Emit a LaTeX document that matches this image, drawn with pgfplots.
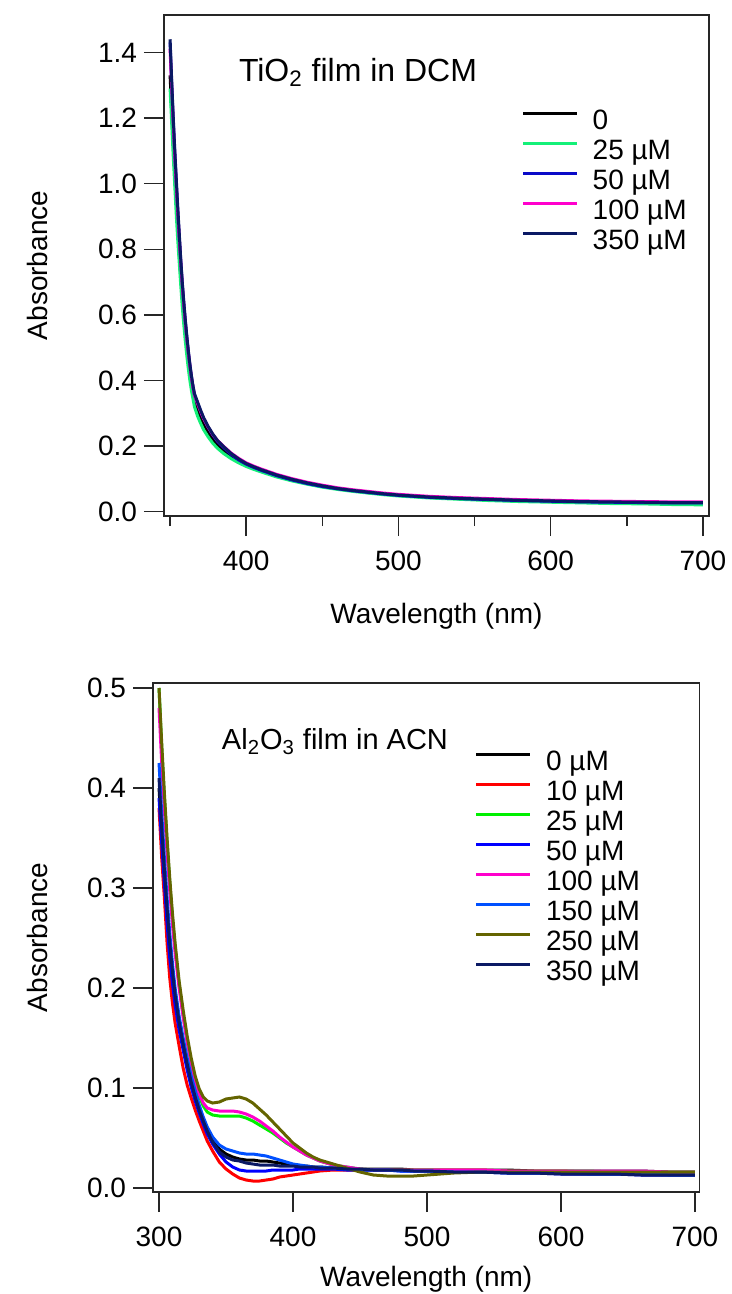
\documentclass[border=0pt]{standalone}
\usepackage{fontspec}
\setmainfont{Liberation Sans}
\usepackage{pgfplots}
\usepackage{pgfplotstable}
\pgfplotsset{compat=1.18}

\definecolor{cSpring}{RGB}{20,240,120}
\definecolor{cBlueT}{RGB}{10,10,200}
\definecolor{cMag}{RGB}{255,0,204}
\definecolor{cNavy}{RGB}{10,25,100}
\definecolor{cRed}{RGB}{255,0,0}
\definecolor{cGreen}{RGB}{0,240,0}
\definecolor{cBlue}{RGB}{0,0,255}
\definecolor{cLBlue}{RGB}{0,80,255}
\definecolor{cOlive}{RGB}{100,100,0}

% TiO2 film in DCM
\pgfplotstableread{
x c0 c25 c50 c100 c350
350 1.33 1.29 1.43 1.41 1.44
351 1.23 1.19 1.31 1.30 1.32
352 1.13 1.09 1.20 1.19 1.21
353 1.04 1.00 1.10 1.09 1.11
354 0.95 0.91 1.01 1.00 1.02
355 0.87 0.83 0.92 0.915 0.93
356 0.79 0.76 0.84 0.835 0.85
357 0.72 0.69 0.765 0.76 0.77
358 0.655 0.625 0.695 0.69 0.70
359 0.60 0.57 0.635 0.63 0.64
360 0.55 0.52 0.58 0.575 0.585
361 0.505 0.475 0.53 0.527 0.535
362 0.46 0.435 0.486 0.484 0.49
363 0.425 0.40 0.447 0.445 0.45
364 0.393 0.37 0.412 0.41 0.415
365 0.365 0.345 0.382 0.38 0.385
366 0.34 0.32 0.357 0.355 0.36
368 0.313 0.292 0.332 0.33 0.335
370 0.29 0.27 0.307 0.306 0.31
372 0.268 0.25 0.284 0.284 0.287
375 0.243 0.228 0.257 0.258 0.26
378 0.222 0.209 0.234 0.236 0.237
381 0.205 0.194 0.215 0.218 0.218
385 0.188 0.178 0.196 0.20 0.199
390 0.170 0.162 0.175 0.179 0.178
395 0.155 0.149 0.158 0.163 0.161
400 0.143 0.138 0.145 0.149 0.147
405 0.133 0.129 0.135 0.139 0.137
410 0.125 0.121 0.126 0.130 0.128
420 0.109 0.106 0.110 0.114 0.112
430 0.097 0.094 0.097 0.101 0.099
440 0.086 0.084 0.086 0.090 0.088
450 0.077 0.075 0.077 0.081 0.079
460 0.070 0.068 0.070 0.073 0.071
470 0.064 0.062 0.064 0.067 0.065
480 0.058 0.057 0.059 0.062 0.060
490 0.054 0.052 0.054 0.057 0.055
500 0.050 0.048 0.050 0.053 0.051
520 0.044 0.042 0.044 0.047 0.045
540 0.040 0.038 0.040 0.043 0.041
560 0.036 0.034 0.037 0.040 0.038
580 0.033 0.031 0.034 0.037 0.035
600 0.031 0.029 0.032 0.035 0.033
620 0.029 0.027 0.030 0.033 0.031
640 0.028 0.025 0.029 0.032 0.030
660 0.027 0.024 0.028 0.031 0.029
680 0.026 0.022 0.027 0.030 0.028
700 0.025 0.021 0.027 0.030 0.028
}\tiotab

% Al2O3 film in ACN
\pgfplotstableread{
x c0 c10 c25 c50 c100 c150 c250 c350
300 0.400 0.380 0.500 0.390 0.480 0.425 0.500 0.410
302 0.355 0.330 0.440 0.345 0.425 0.375 0.445 0.360
304 0.313 0.290 0.390 0.305 0.378 0.330 0.395 0.318
306 0.275 0.245 0.345 0.265 0.335 0.290 0.350 0.280
308 0.240 0.210 0.305 0.230 0.297 0.255 0.310 0.245
310 0.213 0.185 0.270 0.205 0.264 0.225 0.275 0.217
312 0.190 0.165 0.240 0.183 0.235 0.200 0.245 0.193
315 0.163 0.142 0.203 0.158 0.200 0.172 0.207 0.166
318 0.142 0.120 0.173 0.138 0.171 0.150 0.178 0.144
321 0.122 0.103 0.147 0.118 0.146 0.130 0.152 0.124
324 0.105 0.090 0.125 0.101 0.125 0.112 0.130 0.106
327 0.090 0.078 0.106 0.087 0.107 0.097 0.112 0.091
330 0.077 0.067 0.092 0.075 0.094 0.083 0.099 0.078
333 0.066 0.057 0.082 0.064 0.085 0.071 0.091 0.067
336 0.057 0.047 0.076 0.054 0.080 0.061 0.087 0.057
340 0.047 0.037 0.073 0.044 0.078 0.051 0.085 0.046
345 0.039 0.026 0.072 0.034 0.077 0.043 0.086 0.036
350 0.034 0.019 0.072 0.026 0.077 0.039 0.089 0.031
355 0.031 0.014 0.072 0.021 0.077 0.037 0.090 0.028
360 0.029 0.010 0.072 0.018 0.076 0.035 0.091 0.027
365 0.028 0.008 0.070 0.017 0.074 0.034 0.089 0.025
370 0.028 0.007 0.067 0.017 0.071 0.034 0.085 0.024
375 0.027 0.007 0.063 0.017 0.067 0.033 0.079 0.023
380 0.027 0.008 0.059 0.017 0.062 0.032 0.073 0.023
385 0.026 0.009 0.055 0.018 0.057 0.030 0.066 0.023
390 0.025 0.011 0.050 0.018 0.051 0.028 0.059 0.022
395 0.024 0.012 0.045 0.018 0.046 0.026 0.052 0.022
400 0.023 0.013 0.041 0.018 0.041 0.024 0.045 0.022
405 0.022 0.014 0.037 0.019 0.037 0.023 0.040 0.021
410 0.022 0.015 0.033 0.019 0.033 0.022 0.035 0.021
415 0.021 0.016 0.030 0.019 0.030 0.021 0.031 0.021
420 0.021 0.017 0.027 0.019 0.027 0.021 0.028 0.020
430 0.020 0.018 0.023 0.019 0.023 0.020 0.024 0.020
440 0.020 0.018 0.021 0.018 0.021 0.019 0.020 0.019
450 0.019 0.018 0.019 0.018 0.019 0.018 0.016 0.019
460 0.019 0.018 0.018 0.018 0.018 0.018 0.013 0.018
470 0.019 0.018 0.018 0.018 0.018 0.018 0.012 0.018
480 0.019 0.018 0.018 0.017 0.018 0.017 0.012 0.018
490 0.018 0.018 0.018 0.017 0.018 0.017 0.012 0.017
500 0.018 0.018 0.018 0.017 0.018 0.017 0.013 0.017
520 0.018 0.018 0.017 0.016 0.018 0.016 0.015 0.016
540 0.018 0.018 0.017 0.016 0.018 0.016 0.016 0.016
560 0.018 0.017 0.017 0.015 0.017 0.015 0.016 0.015
580 0.017 0.017 0.017 0.015 0.017 0.015 0.016 0.015
600 0.017 0.017 0.017 0.014 0.017 0.015 0.016 0.014
620 0.017 0.016 0.017 0.014 0.017 0.014 0.016 0.014
640 0.017 0.016 0.016 0.014 0.017 0.014 0.016 0.014
660 0.017 0.016 0.016 0.013 0.017 0.014 0.016 0.013
680 0.016 0.015 0.016 0.013 0.016 0.013 0.016 0.013
700 0.016 0.015 0.016 0.013 0.016 0.013 0.016 0.013
}\altab

\pgfplotsset{
  panel/.style={
    scale only axis,
    axis line style={line width=0.75pt, black!85},
    every tick/.style={line width=0.75pt, black!85},
    tick align=outside,
    xtick pos=bottom, ytick pos=left,
    major tick length=10pt,
    minor tick length=5pt,
    tick label style={font=\fontsize{14}{16}\selectfont},
    xticklabel style={yshift=-4pt},
    label style={font=\fontsize{14}{16}\selectfont},
    /pgf/number format/assume math mode=true,
    yticklabel style={/pgf/number format/fixed, /pgf/number format/fixed zerofill, /pgf/number format/precision=1},
    legend style={draw=none, fill=none, inner sep=0pt, outer sep=0pt, row sep=0pt, column sep=7pt,
      font=\fontsize{14}{16}\selectfont,
      nodes={inner sep=0pt, text height=10.5pt, text depth=4.5pt}},
    legend cell align=left,
    legend image code/.code={\draw[##1, line width=1.6pt] (0pt,5pt) -- (27pt,5pt);},
    every axis plot/.append style={line width=1.5pt},
  }
}

\begin{document}
\begin{tikzpicture}
\begin{axis}[panel,
  at={(82pt,-7.5pt)}, anchor=north west,
  width=272.5pt, height=250.5pt,
  xmin=346, xmax=704, ymin=-0.013, ymax=1.514,
  xtick={400,500,600,700}, minor xtick={350,450,550,650},
  ytick={0,0.2,0.4,0.6,0.8,1.0,1.2,1.4},
  xlabel={Wavelength (nm)}, ylabel={Absorbance},
  xlabel style={at={(axis description cs:0.5,-0.2)}, anchor=center},
  ylabel style={at={(axis description cs:-0.233,0.5)}, anchor=center},
  legend style={at={(0.656,0.813)}, anchor=north west},
]
\addplot[black] table[x=x, y=c0] {\tiotab};
\addplot[cSpring] table[x=x, y=c25] {\tiotab};
\addplot[cBlueT] table[x=x, y=c50] {\tiotab};
\addplot[cMag] table[x=x, y=c100] {\tiotab};
\addplot[cNavy] table[x=x, y=c350] {\tiotab};
\legend{0, 25 µM, 50 µM, 100 µM, 350 µM}
\node[font=\fontsize{16}{18}\selectfont, anchor=center] at (rel axis cs:0.356,0.886) {TiO\textsubscript{2} film in DCM};
\end{axis}

\begin{axis}[panel,
  at={(76.5pt,-341.5pt)}, anchor=north west,
  width=273.25pt, height=254.5pt,
  xmin=295.5, xmax=703.4, ymin=-0.004, ymax=0.505,
  xtick={300,400,500,600,700},
  ytick={0,0.1,0.2,0.3,0.4,0.5},
  xlabel={Wavelength (nm)}, ylabel={Absorbance},
  xlabel style={at={(axis description cs:0.5,-0.172)}, anchor=center},
  ylabel style={at={(axis description cs:-0.212,0.5)}, anchor=center},
  legend style={at={(0.589,0.869)}, anchor=north west},
]
\addplot[black] table[x=x, y=c0] {\altab};
\addplot[cRed] table[x=x, y=c10] {\altab};
\addplot[cGreen] table[x=x, y=c25] {\altab};
\addplot[cBlue] table[x=x, y=c50] {\altab};
\addplot[cMag] table[x=x, y=c100] {\altab};
\addplot[cLBlue] table[x=x, y=c150] {\altab};
\addplot[cOlive] table[x=x, y=c250] {\altab};
\addplot[cNavy] table[x=x, y=c350] {\altab};
\legend{0 µM, 10 µM, 25 µM, 50 µM, 100 µM, 150 µM, 250 µM, 350 µM}
\node[font=\fontsize{14.5}{17}\selectfont, anchor=center] at (rel axis cs:0.333,0.885) {Al\textsubscript{2}O\textsubscript{3} film in ACN};
\end{axis}
\pgfresetboundingbox
\path[use as bounding box] (0pt,0pt) rectangle (366pt,-647pt);
\end{tikzpicture}
\end{document}
